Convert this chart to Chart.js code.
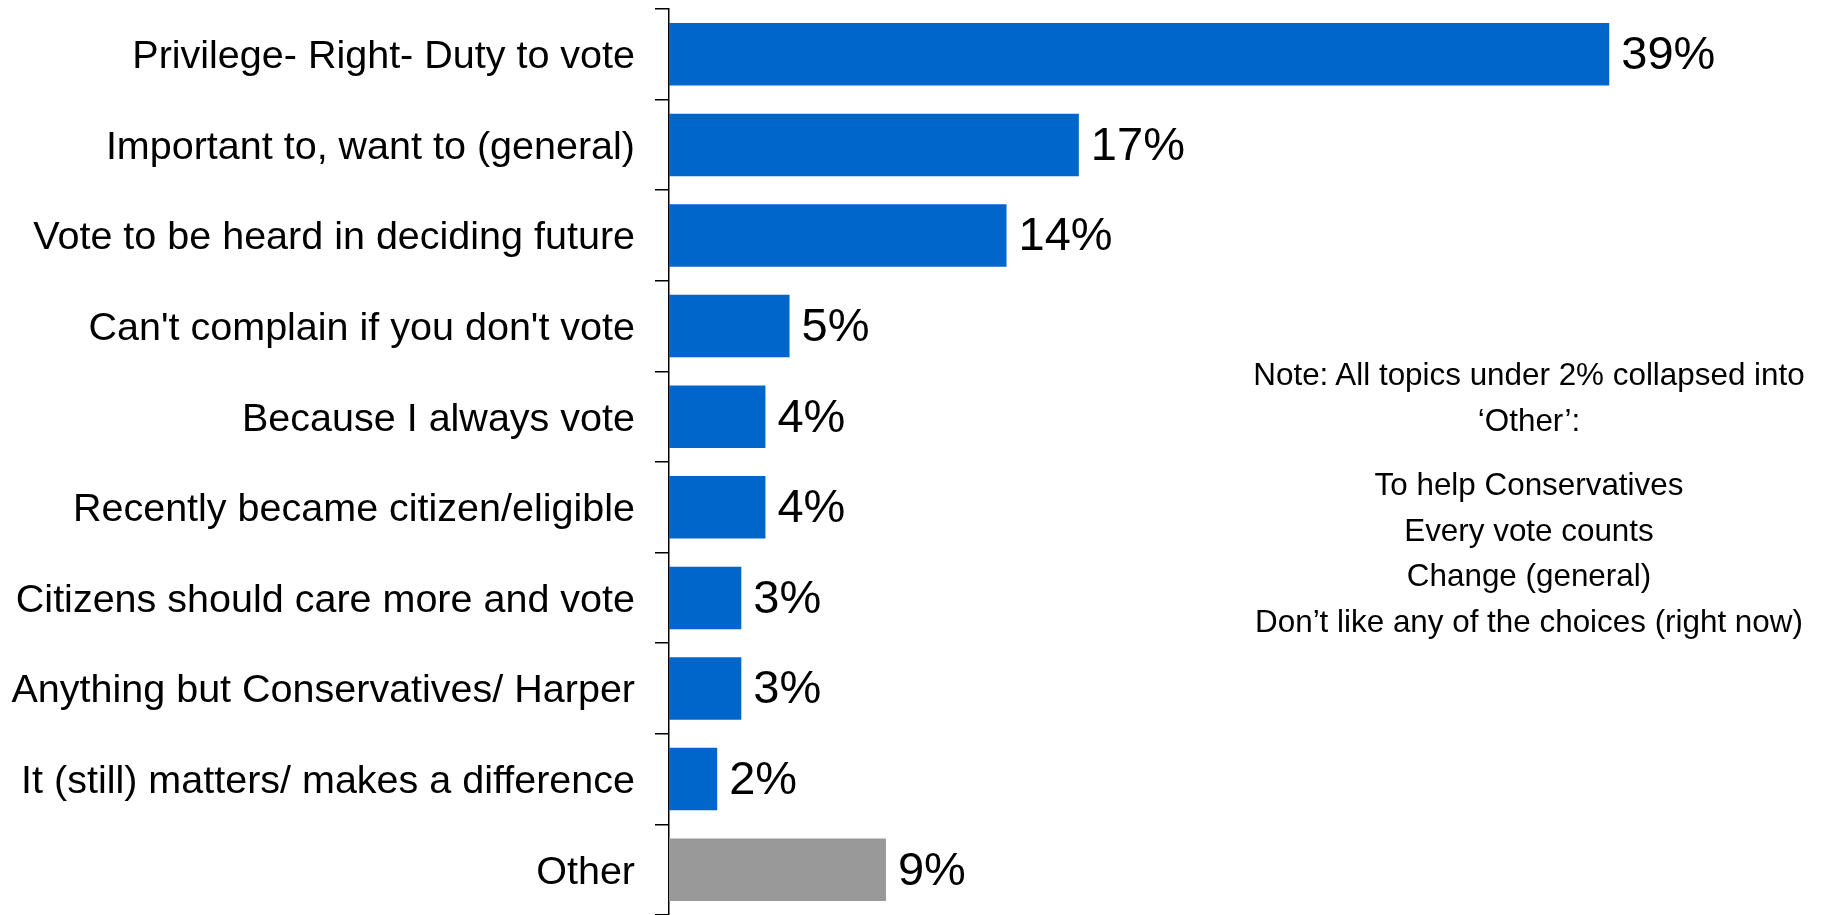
<!DOCTYPE html>
<html>
<head>
<meta charset="utf-8">
<script src="https://cdn.jsdelivr.net/npm/chart.js@4.4.1/dist/chart.umd.min.js"></script>
<style>
  html, body { margin: 0; padding: 0; background: #fff; }
  #wrap { position: relative; width: 1824px; height: 915px; }
  #note {
    position: absolute; left: 1242px; width: 574px; top: 352px;
    font-family: 'Liberation Sans', Arial, Helvetica, sans-serif;
    font-size: 31.4px; color: #000; text-align: center; line-height: 45.5px;
  }
  #note p { margin: 0; }
  #note .gap { height: 19px; }
</style>
</head>
<body>
<div id="wrap">
  <canvas id="c" width="1824" height="915"></canvas>
  <div id="note">
    <p>Note: All topics under 2% collapsed into</p>
    <p>‘Other’:</p>
    <div class="gap"></div>
    <p>To help Conservatives</p>
    <p>Every vote counts</p>
    <p>Change (general)</p>
    <p>Don’t like any of the choices (right now)</p>
  </div>
</div>
<script>
const categories = [
  "Privilege- Right- Duty to vote",
  "Important to, want to (general)",
  "Vote to be heard in deciding future",
  "Can't complain if you don't vote",
  "Because I always vote",
  "Recently became citizen/eligible",
  "Citizens should care more and vote",
  "Anything but Conservatives/ Harper",
  "It (still) matters/ makes a difference",
  "Other"
];
const values = [39, 17, 14, 5, 4, 4, 3, 3, 2, 9];
const barColors = ["#0066CC","#0066CC","#0066CC","#0066CC","#0066CC","#0066CC","#0066CC","#0066CC","#0066CC","#999999"];

const FONT = "'Liberation Sans', Arial, Helvetica, sans-serif";

const valueLabels = {
  id: 'valueLabels',
  afterDatasetsDraw(chart) {
    const ctx = chart.ctx;
    const meta = chart.getDatasetMeta(0);
    ctx.save();
    ctx.font = "47px " + FONT;
    ctx.fillStyle = "#000";
    ctx.textAlign = "left";
    ctx.textBaseline = "middle";
    meta.data.forEach((bar, i) => {
      ctx.fillText(values[i] + "%", bar.x + 12, bar.y + 2);
    });
    ctx.restore();
  }
};

new Chart(document.getElementById('c'), {
  type: 'bar',
  data: {
    labels: categories,
    datasets: [{
      data: values,
      backgroundColor: barColors,
      borderWidth: 0,
      barPercentage: 0.69,
      categoryPercentage: 1.0
    }]
  },
  options: {
    indexAxis: 'y',
    responsive: false,
    animation: false,
    events: [],
    layout: { padding: { left: 0, right: 46, top: 9, bottom: 0 } },
    plugins: { legend: { display: false }, tooltip: { enabled: false } },
    scales: {
      x: { display: false, min: 0, max: 46 },
      y: {
        offset: true,
        grid: { display: true, drawOnChartArea: false, drawTicks: true, tickLength: 14, color: '#000', lineWidth: 1.5, offset: true },
        border: { display: true, color: '#000', width: 1.5 },
        ticks: { color: '#000', font: { family: FONT, size: 39.5 }, padding: 20, autoSkip: false, labelOffset: 3 },
        afterFit(scale) { scale.width = 669; scale.paddingTop = 0; scale.paddingBottom = 0; }
      }
    }
  },
  plugins: [valueLabels]
});
</script>
</body>
</html>
